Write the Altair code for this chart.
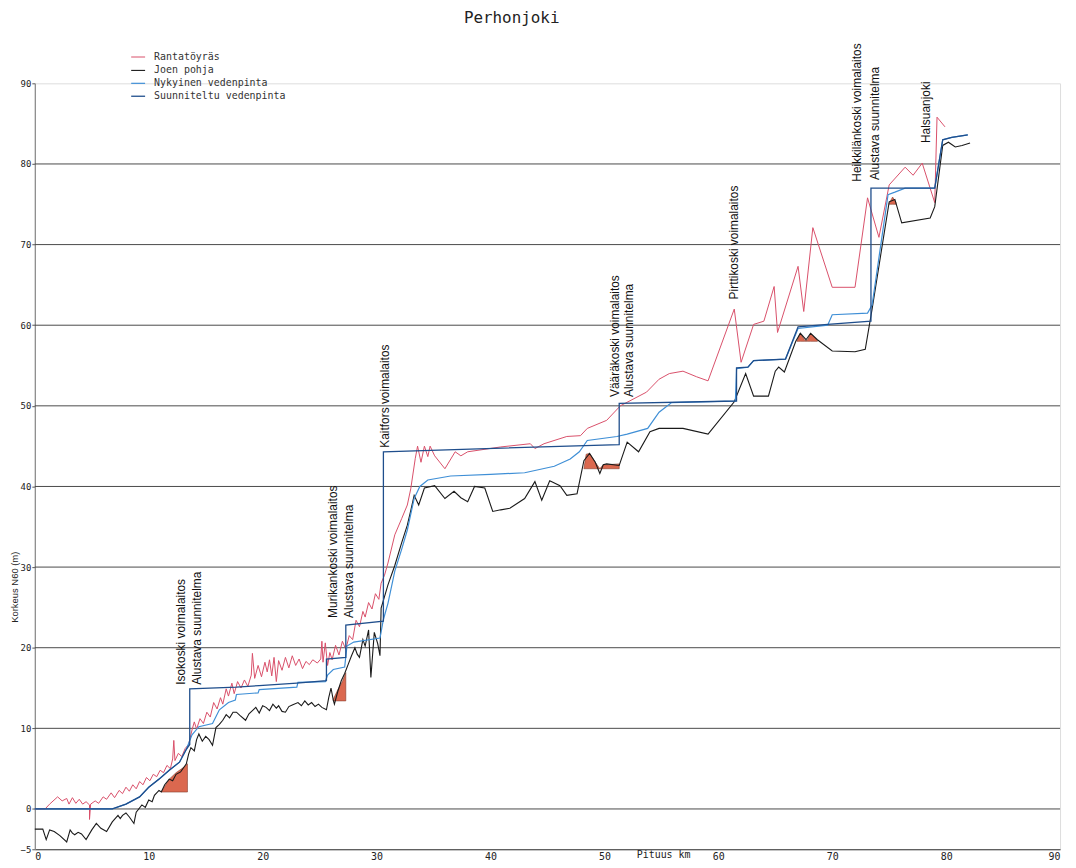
import altair as alt
import pandas as pd

# ---------------- data (km, m N60) ----------------
series_names = ["Rantatöyräs", "Joen pohja", "Nykyinen vedenpinta", "Suunniteltu vedenpinta"]
series_colors = ["#d9506a", "#1a1a1a", "#3f8fd6", "#1f4e8c"]
series_widths = [1.0, 1.3, 1.2, 1.3]

red_km = [0, 0.9, 1.3, 2.0, 2.4, 2.8, 3.0, 3.3, 3.6, 3.9, 4.2, 4.5, 4.8, 4.8, 4.9, 5.3, 5.6, 6.0, 6.3, 6.7,
          7.0, 7.4, 7.7, 8.0, 8.3, 8.6, 8.9, 9.2, 9.5, 9.8, 10.1, 10.4, 10.7, 11.0, 11.3, 11.6, 11.9, 12.1,
          12.2, 12.3, 12.6, 12.9, 13.2, 13.5, 13.8, 14.0, 14.2, 14.5, 14.8, 15.1, 15.4, 15.7, 16.0, 16.3,
          16.5, 16.8, 17.0, 17.3, 17.5, 17.8, 18.1, 18.4, 18.7, 19.0, 19.1, 19.3, 19.6, 19.9, 20.2, 20.4,
          20.6, 20.8, 21.0, 21.2, 21.4, 21.7, 22.0, 22.3, 22.6, 22.9, 23.2, 23.5, 23.8, 24.1, 24.4, 24.8,
          25.1, 25.2, 25.3, 25.5, 25.7, 25.9, 26.1, 26.4, 26.7, 27.0, 27.3, 27.6, 27.9, 28.2, 28.5, 28.8,
          29.0, 29.3, 29.6, 29.9, 30.2, 30.4, 30.7, 31.0, 31.6, 32.2, 32.7, 33.0, 33.4, 33.6, 33.9, 34.2,
          34.5, 34.7, 35.1, 36.0, 36.9, 37.4, 38.0, 40.9, 43.5, 43.9, 44.7, 46.7, 47.9, 48.5, 50.2, 51.4,
          53.7, 54.8, 55.7, 56.9, 58.1, 59.1, 61.4, 62.0, 63.1, 64.0, 64.9, 65.2, 67.0, 67.5, 68.3, 70.0,
          72.0, 73.1, 74.1, 75.0, 76.4, 77.1, 77.9, 79.0, 79.2, 79.9]
red_m = [0, 0, 0.6, 1.5, 1.0, 1.3, 0.6, 1.4, 0.7, 1.2, 0.6, 0.9, 0.5, -1.3, 0.6, 1.0, 0.7, 1.5, 1.2, 2.0,
         1.4, 2.3, 1.9, 2.7, 2.2, 3.0, 2.5, 3.4, 3.0, 3.9, 3.5, 4.3, 4.0, 4.8, 4.5, 5.4, 5.0, 6.2,
         8.5, 6.0, 6.9, 6.5, 7.5, 8.0, 9.8, 10.8, 9.9, 11.2, 10.6, 12.0, 11.4, 13.2, 12.4, 13.8,
         13.0, 14.9, 14.0, 15.6, 14.3, 15.8, 15.0, 16.0, 15.2, 16.6, 19.3, 16.2, 17.8, 16.4, 18.2, 17.0,
         18.5, 16.5, 18.8, 15.8, 18.4, 17.2, 18.8, 17.5, 19.0, 17.8, 18.6, 17.4, 18.3, 17.9, 18.5, 18.1,
         18.6, 20.8, 18.2, 20.6, 17.8, 19.4, 18.5, 20.3, 19.1, 20.8, 19.8, 21.5, 21.0, 23.4, 22.6, 24.5,
         23.8, 25.6, 24.8, 26.7, 26.0, 28.0, 29.0, 30.5, 34.0, 36.0, 37.7, 39.7, 43.5, 45.0, 43.0, 45.0,
         43.7, 45.0, 43.8, 42.2, 44.3, 43.8, 44.3, 44.9, 45.3, 44.7, 45.3, 46.2, 46.3, 47.2, 48.2, 50.0,
         51.7, 53.3, 54.0, 54.3, 53.6, 53.1, 62.0, 55.4, 60.1, 60.5, 64.8, 59.1, 67.3, 61.7, 72.1, 64.7,
         64.7, 75.8, 70.9, 77.4, 79.6, 78.6, 80.1, 75.2, 85.8, 84.6]

bed_km = [0, 0.7, 1.0, 1.3, 1.7, 2.2, 2.8, 3.1, 3.3, 3.5, 3.8, 4.1, 4.5, 5.0, 5.4, 5.8, 6.3, 6.8, 7.3, 7.5,
          7.7, 8.0, 8.3, 8.7, 8.9, 9.4, 9.7, 10.0, 10.3, 10.5, 10.9, 11.1, 11.4, 11.8, 12.1, 12.4, 12.8,
          13.1, 13.3, 13.5, 13.7, 14.0, 14.2, 14.4, 14.7, 15.0, 15.3, 15.6, 15.9, 16.2, 16.5, 16.8, 17.1,
          17.4, 17.7, 18.0, 18.5, 18.8, 19.1, 19.4, 19.7, 20.0, 20.3, 20.6, 20.9, 21.2, 21.4, 21.7, 22.0,
          22.3, 22.6, 23.1, 23.4, 23.7, 24.0, 24.3, 24.6, 24.9, 25.2, 25.6, 25.8, 26.0, 26.2, 26.3, 26.6,
          26.9, 27.2, 27.5, 27.8, 28.1, 28.3, 28.5, 28.8, 29.0, 29.3, 29.5, 29.8, 30.1, 30.3, 30.4, 31.0,
          31.6, 32.2, 32.7, 33.0, 33.3, 33.7, 34.2, 35.1, 36.0, 36.8, 37.4, 38.0, 38.6, 39.5, 40.2, 40.9,
          41.7, 43.0, 43.9, 44.5, 45.2, 46.1, 46.7, 47.6, 48.2, 48.7, 49.2, 49.6, 49.9, 50.2, 51.3, 52.0,
          53.0, 54.0, 54.8, 56.9, 59.1, 61.4, 62.4, 63.1, 64.4, 65.0, 65.3, 65.8, 66.8, 67.2, 67.7, 68.1,
          68.7, 70.0, 72.0, 72.9, 73.5, 75.0, 75.5, 76.1, 78.6, 79.0, 79.7, 80.2, 80.8, 81.4, 82.1]
bed_m = [-2.5, -2.5, -3.8, -2.6, -2.8, -3.3, -4.1, -2.6, -3.0, -3.2, -2.9, -3.1, -3.8, -2.6, -1.8, -2.4,
         -2.8, -1.6, -0.8, -1.2, -0.8, -0.5, -1.0, -1.8, -0.4, 0.5, 0.2, 1.1, 0.9, 1.7, 2.3, 2.1, 3.0, 3.7,
         3.5, 4.3, 4.6, 5.2, 5.6, 6.8, 7.6, 7.2, 8.6, 9.3, 8.4, 9.0, 8.6, 7.9, 10.1, 10.5, 11.0, 11.7,
         11.3, 12.0, 12.0, 11.6, 11.0, 11.8, 12.2, 12.6, 11.9, 12.8, 12.6, 12.2, 13.0, 12.5, 12.8, 12.1,
         12.0, 12.7, 12.9, 13.2, 12.8, 13.4, 12.9, 13.2, 12.7, 13.0, 12.6, 12.3, 13.8, 15.0, 13.5, 13.0,
         14.6, 15.9, 16.8, 17.9, 19.0, 20.0, 19.2, 18.8, 21.0, 20.2, 22.2, 16.3, 21.9, 20.5, 19.0, 24.9,
         27.8, 30.2, 33.0, 35.2, 37.0, 38.9, 37.7, 39.8, 40.1, 38.5, 39.4, 38.6, 38.1, 40.0, 39.8, 36.9,
         37.1, 37.3, 38.5, 40.6, 38.3, 40.7, 40.1, 38.9, 39.1, 43.2, 44.1, 43.0, 41.6, 42.7, 42.8, 42.6,
         45.5, 44.3, 46.8, 47.2, 47.2, 46.5, 50.5, 54.0, 51.2, 51.2, 54.3, 54.8, 54.2, 58.0, 59.0, 58.2,
         59.0, 58.2, 56.8, 56.7, 57.0, 62.0, 75.3, 75.6, 72.7, 73.3, 74.7, 82.3, 82.7, 82.1, 82.3, 82.6]

cur_km = [0, 6.8, 8.0, 9.2, 10.0, 10.9, 11.8, 12.7, 13.3, 13.8, 14.4, 15.6, 16.2, 17.0, 17.6, 17.7, 19.6,
          19.7, 23.0, 23.1, 25.5, 25.7, 26.2, 27.2, 27.4, 28.0, 30.3, 30.6, 31.0, 31.6, 32.2, 32.7, 33.3,
          33.8, 34.5, 36.5, 40.0, 43.0, 45.6, 47.0, 47.8, 48.5, 51.1, 52.0, 53.8, 54.8, 55.9, 61.5, 61.6,
          62.6, 63.1, 65.9, 67.0, 69.6, 70.0, 73.1, 73.5, 74.9, 75.5, 76.4, 79.0, 79.7, 80.5, 81.9]
cur_m = [0, 0, 0.6, 1.5, 2.7, 3.7, 4.8, 5.8, 7.4, 9.2, 10.2, 10.6, 12.3, 13.2, 13.5, 14.2, 14.4,
         14.8, 15.1, 15.7, 15.8, 16.6, 17.3, 17.6, 20.2, 20.7, 21.2, 23.5, 25.5, 29.5, 32.2, 34.6, 38.5,
         40.0, 40.8, 41.3, 41.5, 41.7, 42.5, 43.4, 44.3, 45.7, 46.2, 46.5, 47.2, 49.2, 50.4, 50.6, 54.6,
         54.8, 55.6, 55.8, 59.6, 60.0, 61.3, 61.5, 62.5, 76.2, 76.5, 77.0, 77.0, 83.0, 83.3, 83.6]

plan_km = [0, 6.8, 8.0, 9.2, 10.0, 10.9, 11.8, 12.7, 13.3, 13.6, 13.6, 17.7, 19.7, 23.0, 25.6, 25.6, 27.3,
           27.3, 30.6, 30.6, 51.3, 51.3, 61.6, 61.6, 62.6, 63.1, 65.9, 67.0, 69.6, 73.4, 73.4, 79.0, 79.7,
           80.5, 81.9]
plan_m = [0, 0, 0.6, 1.5, 2.7, 3.7, 4.8, 5.8, 7.4, 8.0, 14.9, 15.1, 15.3, 15.6, 15.9, 18.6, 18.8,
          22.8, 23.3, 44.3, 45.2, 50.3, 50.6, 54.7, 54.8, 55.6, 55.8, 59.8, 60.1, 60.5, 77.0, 77.0, 83.0,
          83.3, 83.6]

# hatched (red) zones: km, top, bottom
zone_id = [1, 1, 1, 1, 1, 2, 2, 2, 2, 3, 3, 3, 3, 3, 3, 3, 3, 4, 4, 4, 4, 4, 4, 5, 5, 5]
zone_km = [11.1, 11.8, 12.4, 13.1, 13.4, 26.2, 26.6, 27.0, 27.3, 48.2, 48.4, 48.7, 49.2, 49.6, 49.9,
           50.3, 51.3, 66.9, 67.2, 67.6, 67.8, 68.1, 68.7, 75.0, 75.3, 75.6]
zone_top = [2.1, 3.7, 4.5, 5.2, 5.6, 13.6, 14.8, 15.8, 16.9, 42.2, 44.0, 44.1, 43.0, 42.2, 42.7,
            42.7, 42.8, 58.0, 59.0, 58.1, 58.1, 59.0, 58.1, 75.1, 75.9, 75.2]
zone_bottom = [2.1, 2.1, 2.1, 2.1, 2.1, 13.4, 13.4, 13.4, 13.4, 42.2, 42.2, 42.2, 42.2, 42.2, 42.2,
               42.2, 42.2, 58.0, 58.0, 58.0, 58.0, 58.0, 58.0, 75.0, 75.0, 75.0]

# rotated annotations
note_text = ["Isokoski voimalaitos", "Alustava suunnitelma", "Murikankoski voimalaitos",
             "Alustava suunnitelma", "Kaitfors voimalaitos", "Vääräkoski voimalaitos",
             "Alustava suunnitelma", "Pirttikoski voimalaitos", "Heikkilänkoski voimalaitos",
             "Alustava suunnitelma", "Halsuanjoki"]
note_km = [12.8, 14.2, 26.2, 27.6, 30.7, 50.9, 52.2, 61.4, 72.2, 73.8, 78.2]
note_m = [15.4, 15.4, 23.7, 23.7, 44.8, 51.1, 51.1, 63.2, 77.8, 78.0, 82.6]

grid_m = [0, 10, 20, 30, 40, 50, 60, 70, 80]
x_ticks = [0, 10, 20, 30, 40, 50, 60, 70, 80, 90]
y_ticks = [-5, 0, 10, 20, 30, 40, 50, 60, 70, 80, 90]

# ---------------- tables ----------------
rows = []
for name, kms, ms in zip(series_names, [red_km, bed_km, cur_km, plan_km], [red_m, bed_m, cur_m, plan_m]):
    for i, (k, m) in enumerate(zip(kms, ms)):
        rows.append({"series": name, "km": k, "m": m, "i": i})
lines_df = pd.DataFrame(rows)

zones_df = pd.DataFrame({"zone": zone_id, "km": zone_km, "top": zone_top, "bottom": zone_bottom})
notes_df = pd.DataFrame({"text": note_text, "km": note_km, "m": note_m})
grid_df = pd.DataFrame({"m": grid_m})

xs = alt.Scale(domain=[0, 90], nice=False, zero=False)
ys = alt.Scale(domain=[-5, 90], nice=False, zero=False)

MONO = "DejaVu Sans Mono"
SANS = "Liberation Sans"

grid = alt.Chart(grid_df).mark_rule(color="#4a4a4a", strokeWidth=1).encode(
    y=alt.Y("m:Q", scale=ys)
)

zones = alt.Chart(zones_df).mark_area(color="#d8583c", opacity=0.9, stroke="#7a2a1a",
                                      strokeWidth=0.6, interpolate="linear").encode(
    x=alt.X("km:Q", scale=xs),
    y=alt.Y("top:Q", scale=ys),
    y2="bottom:Q",
    detail="zone:N",
)

lines = alt.Chart(lines_df).mark_line(interpolate="linear").encode(
    x=alt.X("km:Q", scale=xs,
            axis=alt.Axis(values=x_ticks, title=None, grid=False, ticks=False, labelPadding=2,
                          labelFont=MONO, labelFontSize=10, labelColor="#222",
                          domainColor="#333", domainWidth=1.2)),
    y=alt.Y("m:Q", scale=ys,
            axis=alt.Axis(values=y_ticks, title=None, grid=False, tickSize=3, tickColor="#555",
                          labelFont=MONO, labelFontSize=9, labelColor="#222", labelPadding=1,
                          domainColor="#888", domainWidth=1.2)),
    color=alt.Color("series:N",
                    scale=alt.Scale(domain=series_names, range=series_colors),
                    legend=alt.Legend(title=None, orient="none", legendX=96, legendY=-34,
                                      symbolType="stroke", symbolSize=196, symbolStrokeWidth=2,
                                      labelFont=MONO, labelFontSize=10, labelColor="#333",
                                      rowPadding=0, labelOffset=8)),
    strokeWidth=alt.StrokeWidth("series:N",
                                scale=alt.Scale(domain=series_names, range=series_widths),
                                legend=None),
    detail="series:N",
    order=alt.Order("i:Q"),
)

notes = alt.Chart(notes_df).mark_text(angle=270, align="left", baseline="middle",
                                      font=SANS, fontSize=12, color="#111").encode(
    x=alt.X("km:Q", scale=xs),
    y=alt.Y("m:Q", scale=ys),
    text="text:N",
)

title_df = pd.DataFrame({"t": ["Perhonjoki"]})
title = alt.Chart(title_df).mark_text(font=MONO, fontSize=16, color="#222", align="center",
                                      baseline="middle").encode(
    x=alt.value(480), y=alt.value(-66), text="t:N"
)

ytitle_df = pd.DataFrame({"t": ["Korkeus N60 (m)"], "m": [27.5]})
ytitle = alt.Chart(ytitle_df).mark_text(font=SANS, fontSize=9.5, color="#222", angle=270,
                                        align="center", baseline="middle").encode(
    x=alt.value(-20), y=alt.Y("m:Q", scale=ys), text="t:N"
)

xtitle_df = pd.DataFrame({"t": ["Pituus km"], "km": [55.2]})
xtitle = alt.Chart(xtitle_df).mark_text(font=MONO, fontSize=10, color="#222", align="center",
                                        baseline="middle").encode(
    x=alt.X("km:Q", scale=xs), y=alt.value(777), text="t:N"
)

chart = alt.layer(grid, zones, lines, notes, title, ytitle, xtitle).properties(
    width=1032, height=771,
    padding={"left": 27, "top": 73, "right": 8, "bottom": 12},
    autosize=alt.AutoSizeParams(type="none"),
).configure_view(stroke=None).configure(background="white")

chart.save("out.html", embed_options={"renderer": "svg", "actions": False})
